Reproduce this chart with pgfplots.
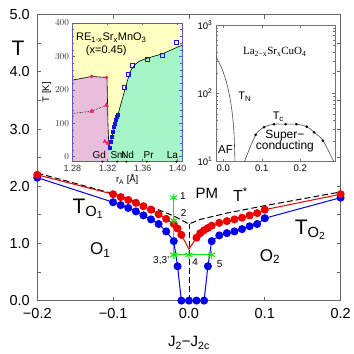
\documentclass[border=0pt]{standalone}
\usepackage{fontspec}
\setmainfont{Liberation Sans}
\newfontfamily\seriffont{Liberation Serif}
\usepackage{pgfplots}
\pgfplotsset{compat=1.18}
\definecolor{ptred}{RGB}{238,0,0}
\definecolor{ptblue}{RGB}{0,0,238}
\definecolor{ptgreen}{RGB}{20,235,20}
\definecolor{inyel}{RGB}{255,255,192}
\definecolor{inpink}{RGB}{232,190,220}
\definecolor{ingreen}{RGB}{165,245,200}
\definecolor{inblue}{RGB}{20,20,225}
\definecolor{inred}{RGB}{245,30,95}
\definecolor{inframe}{RGB}{90,90,200}

\begin{document}
\begin{tikzpicture}
% main phase diagram
\begin{axis}[name=main, at={(0,0)}, anchor=south west,
  scale only axis, width=303.4pt, height=286pt,
  xmin=-0.2, xmax=0.2, ymin=0, ymax=5, clip=false,
  axis line style={black!60, line width=0.9pt},
  every tick/.style={black!60, line width=0.8pt},
  major tick length=4pt, minor tick length=4pt,
  xtick={-0.2,-0.1,0,0.1,0.2}, xticklabels={−0.2,−0.1,0.0,0.1,0.2},
  ytick={0,1,2,3,4,5}, yticklabels={0.0,1.0,2.0,3.0,4.0,5.0},
  minor ytick={0.5,1.5,2.5,3.5,4.5},
  ticklabel style={font=\fontsize{14.5}{14.5}\selectfont},
  xticklabel style={yshift=-4.5pt}, yticklabel style={xshift=-4pt},
  mark size=3.5pt]
% T* (dashed)
\addplot[black, line width=1pt, dash pattern=on 6pt off 3pt] coordinates {(-0.2,2.23) (-0.1,1.87) (-0.05,1.64) (-0.02,1.48) (0,1.34) (0.015,1.42) (0.05,1.53) (0.1,1.66) (0.2,1.90)};
\addplot[black, line width=0.8pt, dash pattern=on 6pt off 3pt] coordinates {(0,0) (0,1.34)};
% blue
\addplot[ptblue, line width=1pt, mark=*] coordinates {(-0.2,2.15) (-0.1,1.72) (-0.09,1.67) (-0.08,1.62) (-0.07,1.56) (-0.06,1.49) (-0.05,1.42) (-0.04,1.34) (-0.03,1.21) (-0.02,1.04) (-0.015,0.6) (-0.01,0) (0,0) (0.01,0) (0.02,0) (0.025,0.6) (0.03,1.04) (0.04,1.14) (0.05,1.18) (0.06,1.21) (0.07,1.25) (0.08,1.30) (0.09,1.34) (0.1,1.44) (0.2,1.80)};
% red
\addplot[ptred, line width=1pt, no marks] coordinates {(-0.01,1.15) (0,0.9) (0.01,1.10)};
\addplot[ptred, line width=1pt, mark=*] coordinates {(-0.2,2.2) (-0.1,1.86) (-0.09,1.81) (-0.08,1.76) (-0.07,1.71) (-0.06,1.65) (-0.05,1.59) (-0.04,1.51) (-0.03,1.43) (-0.02,1.34) (-0.015,1.26) (-0.01,1.15)};
\addplot[ptred, line width=1pt, mark=*] coordinates {(0.01,1.10) (0.015,1.18) (0.02,1.23) (0.025,1.27) (0.03,1.31) (0.04,1.36) (0.05,1.39) (0.06,1.42) (0.07,1.45) (0.08,1.49) (0.09,1.53) (0.1,1.59) (0.2,1.86)};
% green path
\addplot[ptgreen, line width=1pt, mark=asterisk, mark size=4pt, mark options={line width=1pt}] coordinates {(-0.02,1.8) (-0.02,1.4) (-0.02,0.8)};
\addplot[ptgreen, line width=1pt, mark=asterisk, mark size=4pt, mark options={line width=1pt}] coordinates {(-0.02,0.8) (0,0.8) (0.03,0.8)};
\node[font=\fontsize{10}{10}\selectfont] at (axis cs:-0.0079,1.82) {1};
\node[font=\fontsize{10}{10}\selectfont] at (axis cs:-0.0071,1.53) {2};
\node[font=\fontsize{10}{10}\selectfont] at (axis cs:-0.0365,0.70) {3,3'};
\node[font=\fontsize{10}{10}\selectfont] at (axis cs:0.0083,0.68) {4};
\node[font=\fontsize{10}{10}\selectfont] at (axis cs:0.0404,0.64) {5};
% labels
\node[font=\fontsize{21}{21}\selectfont] at (axis cs:-0.2255,4.42) {T};
\node[font=\fontsize{15}{15}\selectfont] at (axis cs:0.0238,1.88) {PM};
\node[font=\fontsize{16}{16}\selectfont] at (axis cs:0.0678,1.85) {T\textsuperscript{*}};
\node[font=\fontsize{21}{21}\selectfont] at (axis cs:-0.133,1.60) {T\textsubscript{O\textsubscript{1}}};
\node[font=\fontsize{21}{21}\selectfont] at (axis cs:0.160,1.24) {T\textsubscript{O\textsubscript{2}}};
\node[font=\fontsize{17}{17}\selectfont] at (axis cs:-0.117,0.886) {O\textsubscript{1}};
\node[font=\fontsize{17}{17}\selectfont] at (axis cs:0.107,0.77) {O\textsubscript{2}};
\node[font=\fontsize{15}{15}\selectfont] at (axis cs:0,-0.74) {J\textsubscript{2}−J\textsubscript{2c}};
\end{axis}

% inset: RE(1-x)Sr(x)MnO3
\begin{axis}[at={(35.2pt,139pt)}, anchor=south west,
  scale only axis, width=109.5pt, height=138.7pt,
  xmin=1.28, xmax=1.405, ymin=-15, ymax=400, axis on top,
  axis background/.style={fill=inyel},
  axis line style={inframe, line width=0.6pt},
  every tick/.style={inframe},
  major tick length=2.5pt, minor tick length=1.5pt,
  xtick={1.28,1.32,1.36,1.40}, xticklabels={1.28,1.32,1.36,1.40},
  ytick={0,100,200,300,400}, minor y tick num=4,
  ticklabel style={font=\fontsize{9}{9}\selectfont, black!80},
  xlabel={r\textsubscript{A} [Å]}, ylabel={T [K]},
  label style={font=\fontsize{9.5}{9.5}\selectfont},
  xlabel style={yshift=4pt}, ylabel style={yshift=-3pt}]
\addplot[draw=none, fill=inpink] coordinates {(1.28,-15) (1.28,229) (1.3019,240) (1.3188,237) (1.3195,230) (1.3205,100) (1.3215,30) (1.3215,-15)} -- cycle;
\addplot[draw=none, fill=ingreen] coordinates {(1.3218,-15) (1.3218,30) (1.343,230) (1.347,260) (1.352,277) (1.3565,286) (1.3648,294) (1.383,308) (1.40,328) (1.405,333) (1.405,-15)} -- cycle;
\addplot[black, line width=0.6pt] coordinates {(1.28,229) (1.3019,240) (1.3188,237) (1.3195,230) (1.3205,100) (1.3215,30)};
\addplot[black, line width=0.6pt] coordinates {(1.3218,30) (1.343,230) (1.347,260) (1.352,277) (1.3565,286) (1.3648,294) (1.383,308) (1.40,328) (1.405,333)};
\addplot[black, line width=0.6pt, densely dotted] coordinates {(1.28,129) (1.3019,136) (1.3188,154)};
\addplot[only marks, mark=*, mark size=1.6pt, inred] coordinates {(1.3019,240) (1.3188,237)};
\addplot[only marks, mark=triangle*, mark size=2.3pt, inred] coordinates {(1.3019,136) (1.3188,154) (1.317,45) (1.3207,40)};
\addplot[only marks, mark=square*, mark size=1.5pt, inblue] coordinates {(1.3226,27) (1.3237,45) (1.3252,60) (1.3264,74) (1.3275,89) (1.3283,99) (1.3294,111) (1.3301,119) (1.3313,126)};
\addplot[only marks, mark=square, mark size=2pt, inblue, thin] coordinates {(1.3396,209) (1.344,247) (1.3479,274) (1.3648,292) (1.382,305) (1.3988,341)};
\addplot[only marks, mark=*, mark size=0.8pt, black] coordinates {(1.3143,-15) (1.331,-15) (1.3415,-15) (1.3648,-15) (1.3988,-15)};
\node[font=\fontsize{10}{10}\selectfont] at (axis cs:1.3105,6) {Gd};
\node[font=\fontsize{10}{10}\selectfont] at (axis cs:1.332,6) {Sm};
\node[font=\fontsize{10}{10}\selectfont] at (axis cs:1.343,6) {Nd};
\node[font=\fontsize{10}{10}\selectfont] at (axis cs:1.367,6) {Pr};
\node[font=\fontsize{10}{10}\selectfont] at (axis cs:1.394,6) {La};
\node[font=\fontsize{11}{11}\selectfont] at (axis cs:1.3243,356) {RE\textsubscript{1-x}Sr\textsubscript{x}MnO\textsubscript{3}};
\node[font=\fontsize{11}{11}\selectfont] at (axis cs:1.3186,316) {(x=0.45)};
\end{axis}

% inset: La(2-x)Sr(x)CuO4
\begin{axis}[at={(178.7pt,139pt)}, anchor=south west,
  scale only axis, width=119pt, height=136.7pt,
  xmin=-0.019, xmax=0.29, ymode=log, ymin=10, ymax=1000,
  axis background/.style={fill=white},
  axis line style={black!55, line width=0.6pt},
  every tick/.style={black!55},
  major tick length=3pt, minor tick length=2pt,
  xtick={0,0.1,0.2}, xticklabels={0.0,0.1,0.2},
  ytick={10,100,1000}, yticklabels={10\textsuperscript{1},10\textsuperscript{2},10\textsuperscript{3}},
  ticklabel style={font=\fontsize{9.5}{9.5}\selectfont}]
\addplot[black!70, line width=0.6pt, smooth] coordinates {(-0.019,345) (-0.004,233) (0.009,141) (0.0174,85) (0.0234,51) (0.028,26) (0.0304,10)};
\addplot[black!70, line width=0.6pt, smooth] coordinates {(0.055,10) (0.084,24.6) (0.106,31.9) (0.132,35.3) (0.162,35.3) (0.19,35.3) (0.217,32.5) (0.236,26.9) (0.259,20.3) (0.287,10)};
\addplot[only marks, mark=*, mark size=1.1pt, black] coordinates {(0.084,24.6) (0.106,31.9) (0.132,35.3) (0.162,35.3) (0.19,35.3) (0.217,32.5) (0.236,26.9) (0.259,20.3)};
\node[font=\seriffont\fontsize{11}{11}\selectfont] at (axis cs:0.134,407) {La\textsubscript{2−x}Sr\textsubscript{x}CuO\textsubscript{4}};
\node[font=\fontsize{11}{11}\selectfont] at (axis cs:0.056,88.5) {T\textsubscript{N}};
\node[font=\fontsize{11}{11}\selectfont] at (axis cs:0.143,45.6) {T\textsubscript{c}};
\node[font=\fontsize{12}{12}\selectfont] at (axis cs:0.160,23.8) {Super−};
\node[font=\fontsize{12}{12}\selectfont] at (axis cs:0.160,16.6) {conducting};
\node[font=\fontsize{11.5}{11.5}\selectfont] at (axis cs:0.006,14.8) {AF};
\node[font=\fontsize{9.5}{9.5}\selectfont, anchor=base] at ([yshift=-13.3pt]rel axis cs:0.975,0) {x};
\node[font=\fontsize{9.5}{9.5}\selectfont, rotate=90] at ([xshift=-14.3pt]rel axis cs:0,0.744) {T [K]};
\end{axis}

\path ([shift={(-37.3pt,-53.3pt)}]main.south west) rectangle ([shift={(13.3pt,14.7pt)}]main.north east);
\end{tikzpicture}
\end{document}
